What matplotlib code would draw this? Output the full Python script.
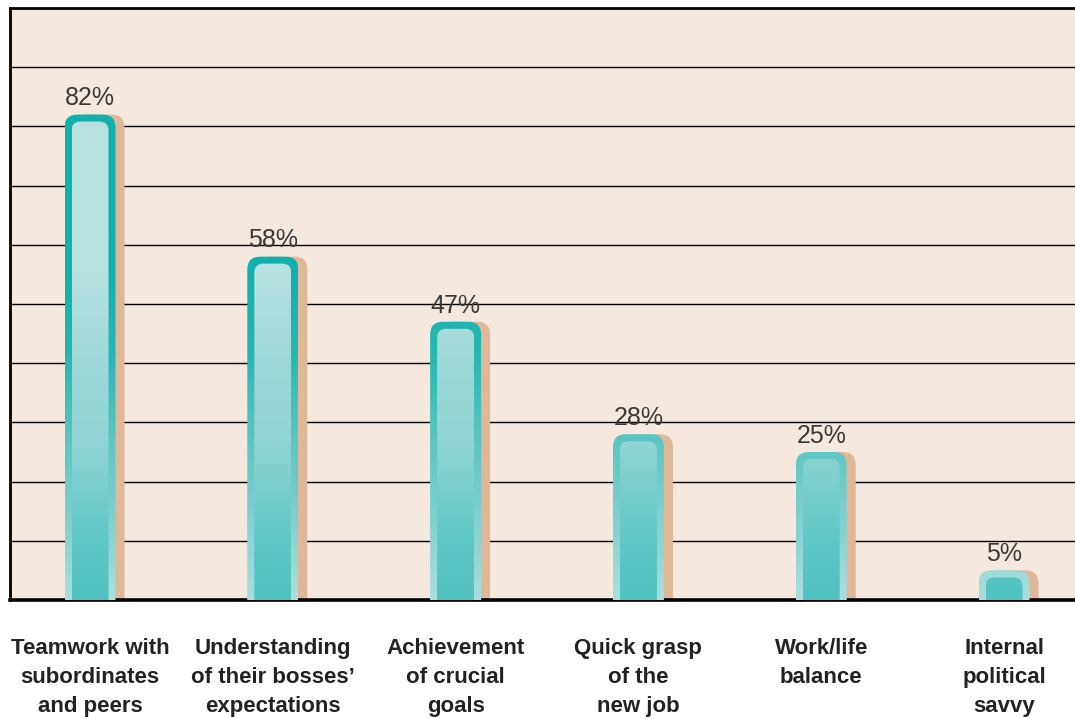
import numpy as np
import matplotlib
matplotlib.use("Agg")
import matplotlib.pyplot as plt
from matplotlib.patches import FancyBboxPatch
from matplotlib.colors import LinearSegmentedColormap

categories = [
    "Teamwork with\nsubordinates\nand peers",
    "Understanding\nof their bosses\u2019\nexpectations",
    "Achievement\nof crucial\ngoals",
    "Quick grasp\nof the\nnew job",
    "Work/life\nbalance",
    "Internal\npolitical\nsavvy",
]
values = [82, 58, 47, 28, 25, 5]

BG = "#f5e8df"
SHADOW = "#dfb898"

# colour ramps keyed on absolute height (0-100 %)
border_cmap = LinearSegmentedColormap.from_list(
    "border", [(0.0, "#aadfde"), (0.12, "#84d2d0"), (0.26, "#5ec6c3"),
               (0.42, "#26b7b3"), (0.55, "#12b0ac"), (1.0, "#12b0ac")])
inner_cmap = LinearSegmentedColormap.from_list(
    "inner", [(0.0, "#50c2bf"), (0.10, "#5fc7c4"), (0.27, "#90d5d3"),
              (0.40, "#9dd9d8"), (0.55, "#b6e1e1"), (1.0, "#b8e2e2")])

fig = plt.figure(figsize=(10.75, 7.19), dpi=100)
fig.patch.set_facecolor("white")

ax_left_px, ax_right_px = 10, 1085
ax_top_px, ax_bot_px = 8, 600
ax = fig.add_axes([ax_left_px / 1075, (719 - ax_bot_px) / 719,
                   (ax_right_px - ax_left_px) / 1075, (ax_bot_px - ax_top_px) / 719])
ax.set_facecolor(BG)

step_px = 182.8
first_px = 90
ax.set_xlim((ax_left_px - first_px) / step_px, (ax_right_px - first_px) / step_px)
ax.set_ylim(0, 100)

# pixel -> data conversions
px_x = 1 / step_px
px_y = 100 / (ax_bot_px - ax_top_px)
aspect = px_y / px_x

ax.set_yticks(np.arange(10, 100, 10))
ax.yaxis.grid(True, color="black", linewidth=1.0, zorder=0)
ax.set_axisbelow(True)
ax.tick_params(axis="y", left=False, labelleft=False)
ax.tick_params(axis="x", bottom=False, pad=24)

for side in ["top", "left", "bottom"]:
    ax.spines[side].set_color("black")
ax.spines["top"].set_linewidth(2.0)
ax.spines["left"].set_linewidth(2.0)
ax.spines["bottom"].set_linewidth(2.6)
ax.spines["right"].set_visible(False)

ax.set_xticks(range(len(categories)))
ax.set_xticklabels(categories, fontsize=16, fontweight="bold", color="#222222",
                   linespacing=1.5,
                   family=["Liberation Sans Narrow", "Liberation Sans", "DejaVu Sans"])

bar_w = 51 * px_x
border = 7
radius_out = 13 * px_x
radius_in = 9 * px_x
shadow_dx = 9 * px_x

for i, v in enumerate(values):
    x0 = i - bar_w / 2
    base = -5
    # shadow
    sh = FancyBboxPatch((x0 + shadow_dx, base), bar_w, v - base,
                        boxstyle=f"round,pad=0,rounding_size={radius_out}",
                        mutation_aspect=aspect, facecolor=SHADOW,
                        edgecolor="none", zorder=2)
    ax.add_patch(sh)
    # outer (border) body
    outer = FancyBboxPatch((x0, base), bar_w, v - base,
                           boxstyle=f"round,pad=0,rounding_size={radius_out}",
                           mutation_aspect=aspect, facecolor="none",
                           edgecolor="none", zorder=3)
    ax.add_patch(outer)
    ys = np.linspace(0, v, 300)
    im = ax.imshow((ys / 100.0)[:, None], cmap=border_cmap, vmin=0, vmax=1,
                   aspect="auto", extent=[x0, x0 + bar_w, 0, v],
                   origin="lower", interpolation="bilinear", zorder=3)
    im.set_clip_path(outer)
    # inner body
    ix0 = x0 + border * px_x
    iw = bar_w - 2 * border * px_x
    itop = v - border * px_y
    inner = FancyBboxPatch((ix0, base), iw, itop - base,
                           boxstyle=f"round,pad=0,rounding_size={radius_in}",
                           mutation_aspect=aspect, facecolor="none",
                           edgecolor="none", zorder=4)
    ax.add_patch(inner)
    ys = np.linspace(0, itop, 300)
    im = ax.imshow((ys / 100.0)[:, None], cmap=inner_cmap, vmin=0, vmax=1,
                   aspect="auto", extent=[ix0, ix0 + iw, 0, itop],
                   origin="lower", interpolation="bilinear", zorder=4)
    im.set_clip_path(inner)

    ax.annotate(f"{v}%", xy=(i, v), xytext=(0, 3), textcoords="offset points",
                ha="center", va="bottom", fontsize=18, color="#3a3a3a",
                family=["Liberation Sans", "DejaVu Sans"], zorder=5)

ax.set_xlim((ax_left_px - first_px) / step_px, (ax_right_px - first_px) / step_px)
ax.set_ylim(0, 100)

fig.savefig("out.png", dpi=100, facecolor=fig.get_facecolor())
